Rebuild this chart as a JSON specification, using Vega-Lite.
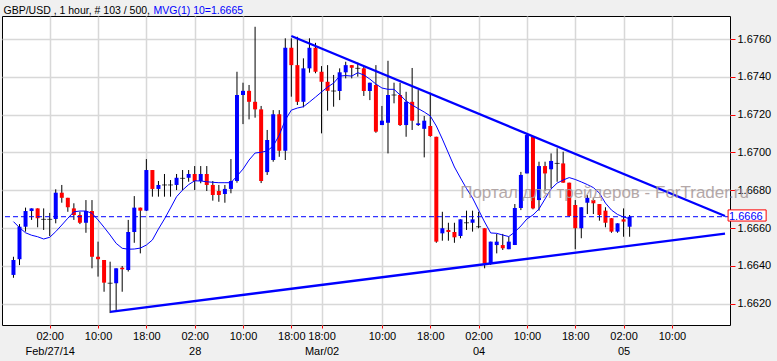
{
  "$schema": "https://vega.github.io/schema/vega-lite/v6.json",
  "width": 728,
  "height": 309,
  "autosize": {"type": "none"},
  "padding": {"left": 2, "top": 16, "right": 47, "bottom": 36},
  "background": "#f0f0f0",
  "config": {
    "font": "Liberation Sans",
    "view": {"fill": "white", "stroke": "black", "strokeWidth": 1}
  },
  "datasets": {
    "bars": [
      {"k":0,"o":1.66352,"h":1.66448,"l":1.66337,"c":1.66431,"ma":1.66634},
      {"k":1,"o":1.66435,"h":1.66621,"l":1.66404,"c":1.66607,"ma":1.66602},
      {"k":2,"o":1.66607,"h":1.66708,"l":1.66581,"c":1.66690,"ma":1.66575},
      {"k":3,"o":1.66690,"h":1.66704,"l":1.66643,"c":1.66704,"ma":1.66562},
      {"k":4,"o":1.66704,"h":1.66704,"l":1.66604,"c":1.66652,"ma":1.66554},
      {"k":5,"o":1.66646,"h":1.66704,"l":1.66590,"c":1.66646,"ma":1.66542},
      {"k":6,"o":1.66646,"h":1.66680,"l":1.66558,"c":1.66646,"ma":1.66551},
      {"k":7,"o":1.66648,"h":1.66805,"l":1.66625,"c":1.66787,"ma":1.66581},
      {"k":8,"o":1.66787,"h":1.66828,"l":1.66734,"c":1.66760,"ma":1.66616},
      {"k":9,"o":1.66760,"h":1.66760,"l":1.66686,"c":1.66710,"ma":1.66652},
      {"k":10,"o":1.66704,"h":1.66731,"l":1.66643,"c":1.66669,"ma":1.66686},
      {"k":11,"o":1.66669,"h":1.66686,"l":1.66621,"c":1.66628,"ma":1.66690},
      {"k":12,"o":1.66628,"h":1.66748,"l":1.66575,"c":1.66690,"ma":1.66690},
      {"k":13,"o":1.66690,"h":1.66748,"l":1.66387,"c":1.66448,"ma":1.66678},
      {"k":14,"o":1.66448,"h":1.66528,"l":1.66343,"c":1.66435,"ma":1.66643},
      {"k":15,"o":1.66431,"h":1.66431,"l":1.66263,"c":1.66311,"ma":1.66604},
      {"k":16,"o":1.66308,"h":1.66422,"l":1.66150,"c":1.66308,"ma":1.66563},
      {"k":17,"o":1.66308,"h":1.66387,"l":1.66166,"c":1.66387,"ma":1.66519},
      {"k":18,"o":1.66390,"h":1.66399,"l":1.66263,"c":1.66382,"ma":1.66493},
      {"k":19,"o":1.66378,"h":1.66643,"l":1.66370,"c":1.66579,"ma":1.66488},
      {"k":20,"o":1.66579,"h":1.66769,"l":1.66522,"c":1.66708,"ma":1.66489},
      {"k":21,"o":1.66708,"h":1.66708,"l":1.66466,"c":1.66692,"ma":1.66494},
      {"k":22,"o":1.66692,"h":1.66965,"l":1.66690,"c":1.66907,"ma":1.66510},
      {"k":23,"o":1.66907,"h":1.66907,"l":1.66766,"c":1.66807,"ma":1.66537},
      {"k":24,"o":1.66807,"h":1.66849,"l":1.66766,"c":1.66828,"ma":1.66595},
      {"k":25,"o":1.66828,"h":1.66886,"l":1.66766,"c":1.66828,"ma":1.66648},
      {"k":26,"o":1.66828,"h":1.66854,"l":1.66766,"c":1.66828,"ma":1.66706},
      {"k":27,"o":1.66828,"h":1.66886,"l":1.66801,"c":1.66866,"ma":1.66766},
      {"k":28,"o":1.66863,"h":1.66907,"l":1.66801,"c":1.66863,"ma":1.66801},
      {"k":29,"o":1.66866,"h":1.66907,"l":1.66845,"c":1.66886,"ma":1.66830},
      {"k":30,"o":1.66886,"h":1.66928,"l":1.66801,"c":1.66849,"ma":1.66850},
      {"k":31,"o":1.66849,"h":1.66928,"l":1.66837,"c":1.66886,"ma":1.66849},
      {"k":32,"o":1.66886,"h":1.66928,"l":1.66796,"c":1.66828,"ma":1.66845},
      {"k":33,"o":1.66828,"h":1.66849,"l":1.66745,"c":1.66775,"ma":1.66842},
      {"k":34,"o":1.66796,"h":1.66828,"l":1.66739,"c":1.66775,"ma":1.66840},
      {"k":35,"o":1.66780,"h":1.66828,"l":1.66734,"c":1.66807,"ma":1.66840},
      {"k":36,"o":1.66807,"h":1.66965,"l":1.66784,"c":1.66849,"ma":1.66840},
      {"k":37,"o":1.66849,"h":1.67427,"l":1.66840,"c":1.67304,"ma":1.66875},
      {"k":38,"o":1.67304,"h":1.67369,"l":1.67150,"c":1.67326,"ma":1.66912},
      {"k":39,"o":1.67326,"h":1.67357,"l":1.67175,"c":1.67268,"ma":1.66960},
      {"k":40,"o":1.67268,"h":1.67665,"l":1.67184,"c":1.67228,"ma":1.66997},
      {"k":41,"o":1.67228,"h":1.67246,"l":1.66838,"c":1.66849,"ma":1.67001},
      {"k":42,"o":1.66896,"h":1.67119,"l":1.66881,"c":1.67066,"ma":1.67008},
      {"k":43,"o":1.66960,"h":1.67224,"l":1.66951,"c":1.67202,"ma":1.67034},
      {"k":44,"o":1.67202,"h":1.67224,"l":1.66977,"c":1.67009,"ma":1.67092},
      {"k":45,"o":1.67009,"h":1.67604,"l":1.66960,"c":1.67554,"ma":1.67172},
      {"k":46,"o":1.67554,"h":1.67604,"l":1.67295,"c":1.67462,"ma":1.67224},
      {"k":47,"o":1.67462,"h":1.67612,"l":1.67251,"c":1.67268,"ma":1.67235},
      {"k":48,"o":1.67268,"h":1.67498,"l":1.67239,"c":1.67445,"ma":1.67242},
      {"k":49,"o":1.67445,"h":1.67604,"l":1.67422,"c":1.67554,"ma":1.67267},
      {"k":50,"o":1.67554,"h":1.67580,"l":1.67419,"c":1.67427,"ma":1.67293},
      {"k":51,"o":1.67427,"h":1.67457,"l":1.67101,"c":1.67374,"ma":1.67320},
      {"k":52,"o":1.67374,"h":1.67462,"l":1.67221,"c":1.67326,"ma":1.67346},
      {"k":53,"o":1.67325,"h":1.67410,"l":1.67242,"c":1.67325,"ma":1.67367},
      {"k":54,"o":1.67325,"h":1.67445,"l":1.67277,"c":1.67424,"ma":1.67404},
      {"k":55,"o":1.67424,"h":1.67480,"l":1.67392,"c":1.67462,"ma":1.67407},
      {"k":56,"o":1.67462,"h":1.67462,"l":1.67392,"c":1.67448,"ma":1.67404},
      {"k":57,"o":1.67445,"h":1.67475,"l":1.67401,"c":1.67445,"ma":1.67422},
      {"k":58,"o":1.67445,"h":1.67453,"l":1.67299,"c":1.67325,"ma":1.67410},
      {"k":59,"o":1.67325,"h":1.67369,"l":1.67277,"c":1.67369,"ma":1.67388},
      {"k":60,"o":1.67357,"h":1.67462,"l":1.67104,"c":1.67110,"ma":1.67362},
      {"k":61,"o":1.67145,"h":1.67246,"l":1.67145,"c":1.67168,"ma":1.67341},
      {"k":62,"o":1.67157,"h":1.67485,"l":1.66995,"c":1.67304,"ma":1.67334},
      {"k":63,"o":1.67304,"h":1.67369,"l":1.67260,"c":1.67304,"ma":1.67334},
      {"k":64,"o":1.67304,"h":1.67369,"l":1.67140,"c":1.67145,"ma":1.67304},
      {"k":65,"o":1.67145,"h":1.67321,"l":1.67083,"c":1.67268,"ma":1.67272},
      {"k":66,"o":1.67268,"h":1.67447,"l":1.67119,"c":1.67168,"ma":1.67251},
      {"k":67,"o":1.67145,"h":1.67330,"l":1.67140,"c":1.67154,"ma":1.67232},
      {"k":68,"o":1.67125,"h":1.67193,"l":1.66974,"c":1.67168,"ma":1.67214},
      {"k":69,"o":1.67140,"h":1.67316,"l":1.67083,"c":1.67087,"ma":1.67193},
      {"k":70,"o":1.67083,"h":1.67083,"l":1.66522,"c":1.66528,"ma":1.67140},
      {"k":71,"o":1.66572,"h":1.66686,"l":1.66533,"c":1.66599,"ma":1.67071},
      {"k":72,"o":1.66590,"h":1.66628,"l":1.66533,"c":1.66579,"ma":1.66997},
      {"k":73,"o":1.66579,"h":1.66628,"l":1.66522,"c":1.66551,"ma":1.66923},
      {"k":74,"o":1.66558,"h":1.66646,"l":1.66546,"c":1.66646,"ma":1.66865},
      {"k":75,"o":1.66628,"h":1.66692,"l":1.66590,"c":1.66628,"ma":1.66809},
      {"k":76,"o":1.66628,"h":1.66692,"l":1.66581,"c":1.66646,"ma":1.66759},
      {"k":77,"o":1.66607,"h":1.66686,"l":1.66599,"c":1.66607,"ma":1.66695},
      {"k":78,"o":1.66599,"h":1.66599,"l":1.66387,"c":1.66413,"ma":1.66632},
      {"k":79,"o":1.66413,"h":1.66528,"l":1.66405,"c":1.66528,"ma":1.66574},
      {"k":80,"o":1.66510,"h":1.66569,"l":1.66466,"c":1.66528,"ma":1.66572},
      {"k":81,"o":1.66510,"h":1.66569,"l":1.66484,"c":1.66493,"ma":1.66563},
      {"k":82,"o":1.66488,"h":1.66554,"l":1.66488,"c":1.66528,"ma":1.66555},
      {"k":83,"o":1.66510,"h":1.66727,"l":1.66510,"c":1.66706,"ma":1.66579},
      {"k":84,"o":1.66706,"h":1.66897,"l":1.66695,"c":1.66881,"ma":1.66611},
      {"k":85,"o":1.66889,"h":1.67101,"l":1.66889,"c":1.67092,"ma":1.66648},
      {"k":86,"o":1.67083,"h":1.67083,"l":1.66699,"c":1.66704,"ma":1.66669},
      {"k":87,"o":1.66748,"h":1.66951,"l":1.66692,"c":1.66928,"ma":1.66701},
      {"k":88,"o":1.66928,"h":1.66951,"l":1.66797,"c":1.66889,"ma":1.66754},
      {"k":89,"o":1.66911,"h":1.66995,"l":1.66810,"c":1.66955,"ma":1.66807},
      {"k":90,"o":1.66942,"h":1.67022,"l":1.66845,"c":1.66942,"ma":1.66838},
      {"k":91,"o":1.66942,"h":1.67004,"l":1.66840,"c":1.66840,"ma":1.66854},
      {"k":92,"o":1.66840,"h":1.66840,"l":1.66660,"c":1.66664,"ma":1.66867},
      {"k":93,"o":1.66722,"h":1.66748,"l":1.66488,"c":1.66599,"ma":1.66857},
      {"k":94,"o":1.66599,"h":1.66710,"l":1.66546,"c":1.66710,"ma":1.66844},
      {"k":95,"o":1.66734,"h":1.66775,"l":1.66674,"c":1.66760,"ma":1.66830},
      {"k":96,"o":1.66748,"h":1.66757,"l":1.66674,"c":1.66731,"ma":1.66814},
      {"k":97,"o":1.66727,"h":1.66727,"l":1.66639,"c":1.66669,"ma":1.66785},
      {"k":98,"o":1.66692,"h":1.66710,"l":1.66604,"c":1.66628,"ma":1.66732},
      {"k":99,"o":1.66652,"h":1.66652,"l":1.66575,"c":1.66581,"ma":1.66695},
      {"k":100,"o":1.66581,"h":1.66625,"l":1.66575,"c":1.66625,"ma":1.66672},
      {"k":101,"o":1.66646,"h":1.66704,"l":1.66554,"c":1.66634,"ma":1.66658},
      {"k":102,"o":1.66607,"h":1.66669,"l":1.66554,"c":1.66660,"ma":1.66650}
    ],
    "trend": [
      {"line":"upper","k":46,"price":1.67616},
      {"line":"upper","k":117.79,"price":1.66664},
      {"line":"lower","k":16,"price":1.66157},
      {"line":"lower","k":117.79,"price":1.66570}
    ],
    "last": [{"price":1.6666,"label":"1.6666"}],
    "mark": [{"text":"Портал для трейдеров - ForTrader.ru"}]
  },
  "layer": [
    {
      "data": {"name": "bars"},
      "mark": {"type": "rule", "color": "black", "strokeWidth": 1},
      "encoding": {
        "x": {
          "field": "k", "type": "quantitative", "title": "GBP/USD , 1 hour, # 103 / 500,",
          "scale": {"domain": [-1.07, 117.79], "nice": false, "zero": false},
          "axis": {
            "orient": "bottom",
            "values": [6,14,22,30,38,46,51,61,69,77,85,93,101,109],
            "labelExpr": "[['02:00','Feb/27/14'],'10:00','18:00',['02:00','28'],'10:00','18:00',['18:00','Mar/02'],'10:00','18:00',['02:00','04'],'10:00','18:00',['02:00','05'],'10:00'][indexof([6,14,22,30,38,46,51,61,69,77,85,93,101,109], datum.value)]",
            "grid": true, "gridColor": "#d8d8d8", "gridWidth": 1.5,
            "domain": false,
            "ticks": true, "tickColor": "#ff0000", "tickSize": 3, "tickWidth": 1,
            "labelFont": "Liberation Sans", "labelFontSize": 11, "labelColor": "#000000",
            "labelPadding": 2, "labelLineHeight": 15.5,
            "labelOverlap": false, "labelFlush": false,
            "titleX": 1, "titleY": -312, "titleAngle": 0, "titleAlign": "left",
            "titleBaseline": "alphabetic", "titleColor": "#000000",
            "titleFont": "Liberation Sans", "titleFontSize": 10.5, "titleFontWeight": "normal"
          }
        },
        "y": {
          "field": "l", "type": "quantitative", "title": "MVG(1) 10=1.6665",
          "scale": {"domain": [1.66087, 1.67722], "nice": false, "zero": false},
          "axis": {
            "orient": "right",
            "values": [1.662, 1.664, 1.666, 1.668, 1.670, 1.672, 1.674, 1.676],
            "format": ".4f",
            "grid": true, "gridColor": "#d8d8d8", "gridWidth": 1.5,
            "domain": false,
            "tickColor": "#ff0000", "tickSize": 5, "tickWidth": 1,
            "labelColor": "#000000",
            "labelFont": "Liberation Sans", "labelFontSize": 11, "labelPadding": 2,
            "labelOverlap": false, "labelFlush": false,
            "titleX": -577, "titleY": -3, "titleAngle": 0, "titleAlign": "left",
            "titleBaseline": "alphabetic", "titleColor": "#0000ff",
            "titleFont": "Liberation Sans", "titleFontSize": 10.5, "titleFontWeight": "normal"
          }
        },
        "y2": {"field": "h"}
      }
    },
    {
      "data": {"name": "bars"},
      "transform": [{"filter": "datum.o != datum.c"}],
      "mark": {"type": "bar", "size": 4},
      "encoding": {
        "x": {"field": "k", "type": "quantitative", "title": "GBP/USD , 1 hour, # 103 / 500,"},
        "y": {"field": "o", "type": "quantitative", "title": "MVG(1) 10=1.6665"},
        "y2": {"field": "c"},
        "color": {"condition": {"test": "datum.c > datum.o", "value": "#0000ff"}, "value": "#ff0000"}
      }
    },
    {
      "data": {"name": "bars"},
      "transform": [{"filter": "datum.o == datum.c"}],
      "mark": {"type": "tick", "orient": "horizontal", "size": 5, "thickness": 1, "color": "black"},
      "encoding": {
        "x": {"field": "k", "type": "quantitative", "title": "GBP/USD , 1 hour, # 103 / 500,"},
        "y": {"field": "o", "type": "quantitative", "title": "MVG(1) 10=1.6665"}
      }
    },
    {
      "data": {"name": "bars"},
      "mark": {"type": "line", "color": "#0000ff", "strokeWidth": 1},
      "encoding": {
        "x": {"field": "k", "type": "quantitative", "title": "GBP/USD , 1 hour, # 103 / 500,"},
        "y": {"field": "ma", "type": "quantitative", "title": "MVG(1) 10=1.6665"}
      }
    },
    {
      "data": {"name": "last"},
      "mark": {"type": "rule", "color": "#0000ff", "strokeWidth": 1, "strokeDash": [5, 3]},
      "encoding": {
        "y": {"field": "price", "type": "quantitative", "title": "MVG(1) 10=1.6665"}
      }
    },
    {
      "data": {"name": "trend"},
      "mark": {"type": "line", "color": "#0000ff", "strokeWidth": 2.3},
      "encoding": {
        "x": {"field": "k", "type": "quantitative", "title": "GBP/USD , 1 hour, # 103 / 500,"},
        "y": {"field": "price", "type": "quantitative", "title": "MVG(1) 10=1.6665"},
        "detail": {"field": "line"}
      }
    },
    {
      "data": {"name": "mark"},
      "mark": {"type": "text", "align": "left", "baseline": "alphabetic", "fontSize": 17, "color": "#a89a9a", "opacity": 0.85, "font": "Liberation Sans"},
      "encoding": {
        "x": {"datum": 73.95},
        "y": {"datum": 1.6676},
        "text": {"field": "text"}
      }
    },
    {
      "data": {"name": "last"},
      "mark": {"type": "rect", "fill": "white", "stroke": "#ff0000", "strokeWidth": 1},
      "encoding": {
        "x": {"datum": 118.3},
        "x2": {"datum": 124.6},
        "y": {"datum": 1.66696},
        "y2": {"datum": 1.66637}
      }
    },
    {
      "data": {"name": "last"},
      "mark": {"type": "text", "align": "left", "baseline": "middle", "fontSize": 11, "color": "#0000ff", "font": "Liberation Sans"},
      "encoding": {
        "x": {"datum": 118.45},
        "y": {"field": "price", "type": "quantitative", "title": "MVG(1) 10=1.6665"},
        "text": {"field": "label"}
      }
    }
  ]
}
